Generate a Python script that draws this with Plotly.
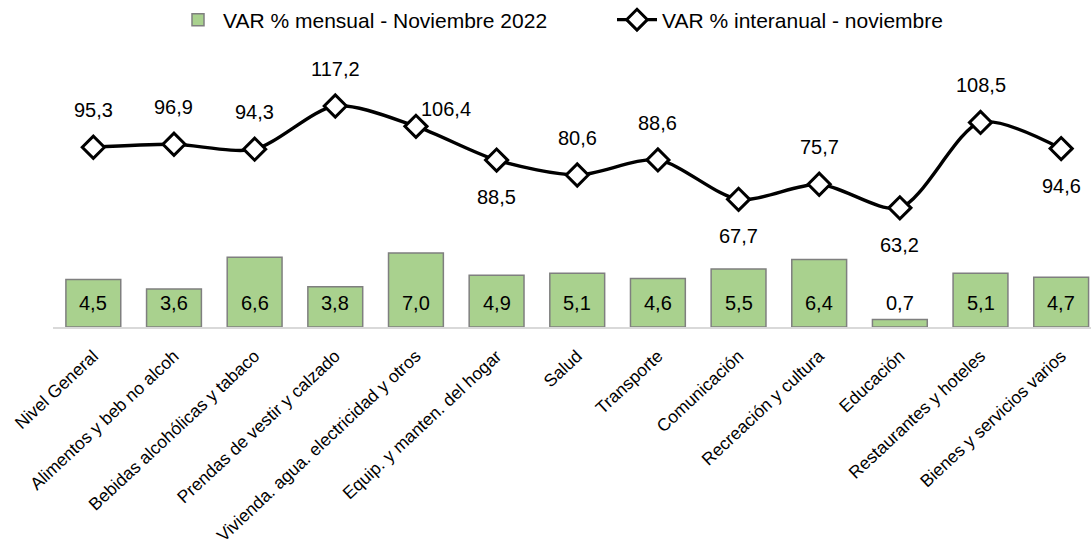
import plotly.graph_objects as go

categories = [
    "Nivel General", "Alimentos y beb no alcoh", "Bebidas alcohólicas y tabaco",
    "Prendas de vestir y calzado", "Vivienda. agua. electricidad y otros",
    "Equip. y manten. del hogar", "Salud", "Transporte", "Comunicación",
    "Recreación y cultura", "Educación", "Restaurantes y hoteles",
    "Bienes y servicios varios",
]
mensual = [4.5, 3.6, 6.6, 3.8, 7.0, 4.9, 5.1, 4.6, 5.5, 6.4, 0.7, 5.1, 4.7]
interanual = [95.3, 96.9, 94.3, 117.2, 106.4, 88.5, 80.6, 88.6, 67.7, 75.7, 63.2, 108.5, 94.6]
line_label_pos = ["above", "above", "above", "above", "right", "below", "above",
                  "above", "below", "above", "below", "above", "below"]

name_bar = "VAR % mensual - Noviembre 2022"
name_line = "VAR % interanual - noviembre"

FONT = "Liberation Sans, Arial, sans-serif"


def fmt(v):
    return f"{v:.1f}".replace(".", ",")


fig = go.Figure()
fig.add_trace(go.Bar(
    x=categories, y=mensual, name=name_bar, yaxis="y",
    marker=dict(color="#a9d18e", line=dict(color="#7f7f7f", width=1.5)),
    legend="legend", hoverinfo="skip",
))
fig.add_trace(go.Scatter(
    x=categories, y=interanual, name=name_line, yaxis="y2",
    mode="lines+markers",
    line=dict(color="#000000", width=3.4, shape="spline", smoothing=0.8),
    marker=dict(symbol="diamond", size=17, color="#ffffff",
                line=dict(color="#000000", width=3)),
    legend="legend2", hoverinfo="skip",
))

annotations = []
for c, v in zip(categories, mensual):
    annotations.append(dict(
        x=c, y=0, xref="x", yref="y", text=fmt(v), showarrow=False,
        yanchor="middle", xanchor="center", yshift=24,
        font=dict(family=FONT, size=20, color="#000000"),
    ))
for c, v, p in zip(categories, interanual, line_label_pos):
    xs, ys = 0, 0
    if p == "above":
        ys = 37
    elif p == "below":
        ys = -37
    else:
        xs, ys = 30, 17
    annotations.append(dict(
        x=c, y=v, xref="x", yref="y2", text=fmt(v), showarrow=False,
        yanchor="middle", xanchor="center", xshift=xs, yshift=ys,
        font=dict(family=FONT, size=20, color="#000000"),
    ))

fig.update_layout(
    width=1091, height=554,
    margin=dict(l=53, r=0, t=63, b=227, autoexpand=False),
    paper_bgcolor="#ffffff", plot_bgcolor="#ffffff",
    font=dict(family=FONT, size=16, color="#000000"),
    bargap=0.32,
    showlegend=True,
    xaxis=dict(
        type="category", range=[-0.5, 12.37], showgrid=False, zeroline=False,
        showline=True, linecolor="#d9d9d9", linewidth=2, automargin=False,
        tickangle=-43, tickfont=dict(family=FONT, size=17.5, color="#000000"),
        ticks="outside", ticklen=10, tickcolor="rgba(0,0,0,0)",
        fixedrange=True,
    ),
    yaxis=dict(range=[0, 25], visible=False, fixedrange=True, automargin=False),
    yaxis2=dict(range=[0, 140], visible=False, overlaying="y", fixedrange=True,
                automargin=False),
    legend=dict(
        orientation="h", x=(173 - 53) / 1038, xanchor="left",
        y=1 + (63 - 20) / 264, yanchor="middle",
        font=dict(family=FONT, size=21, color="#000000"),
        bgcolor="rgba(0,0,0,0)", itemwidth=40,
    ),
    legend2=dict(
        orientation="h", x=(612 - 53) / 1038, xanchor="left",
        y=1 + (63 - 20) / 264, yanchor="middle",
        font=dict(family=FONT, size=21, color="#000000"),
        bgcolor="rgba(0,0,0,0)", itemwidth=40,
    ),
    annotations=annotations,
)

fig.write_html(
    "out.html",
    config={"displayModeBar": False},
    post_script="document.body.style.margin='0px';document.body.style.overflow='hidden';",
)
